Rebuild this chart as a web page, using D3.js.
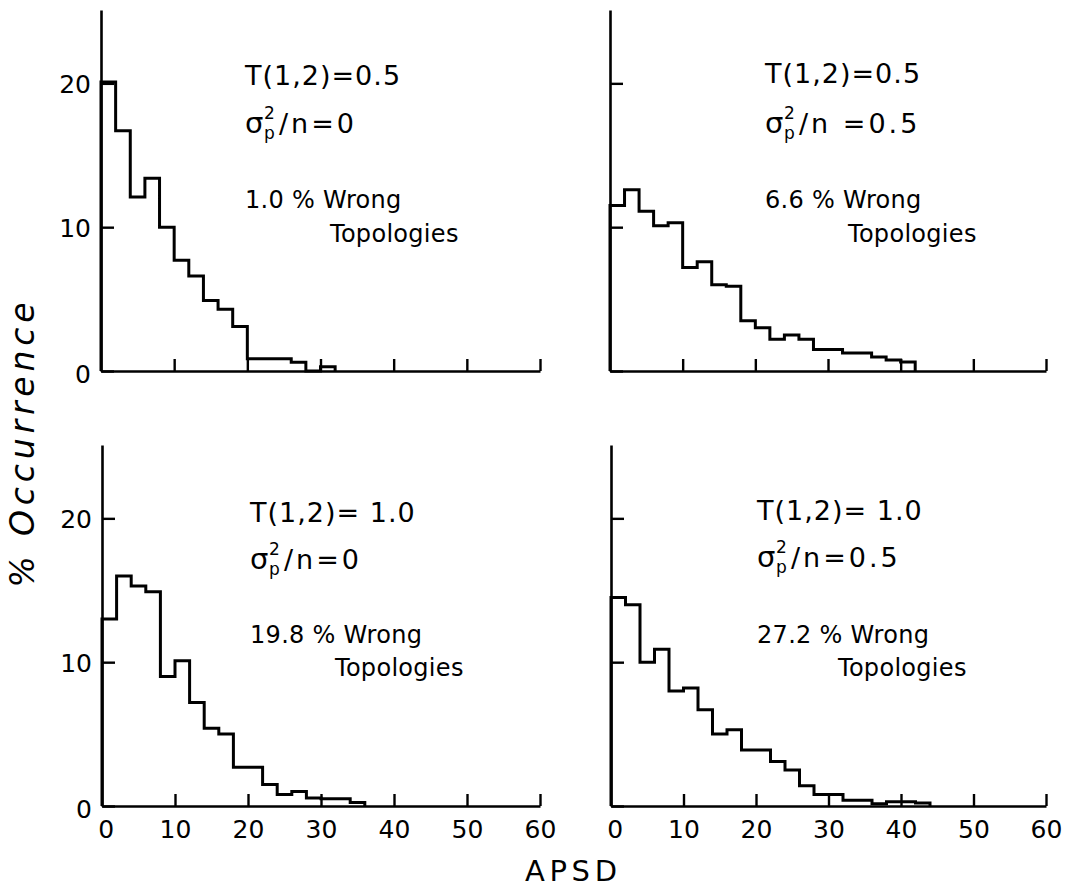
<!DOCTYPE html>
<html>
<head>
<meta charset="utf-8">
<script src="https://cdn.jsdelivr.net/npm/d3@7"></script>
<style>
  html, body { margin: 0; padding: 0; background: #fff; }
  svg { display: block; }
  text { font-family: "DejaVu Sans", sans-serif; fill: #000; }
</style>
</head>
<body>
<svg id="chart" width="1075" height="887"></svg>
<script>
// ---------------- data ----------------
const binWidth = 2;                       // APSD bin width
const apsdTicks = [0, 10, 20, 30, 40, 50, 60];
const occTicks = [0, 10, 20];
const apsdDomain = [0, 60];
const occDomain = [0, 25.1];

// % occurrence per APSD bin (bins of width 2 starting at 0)
const occT05S0  = [20.1, 16.7, 12.1, 13.4, 10.0, 7.7, 6.6, 4.9, 4.3, 3.1, 0.85, 0.85, 0.85, 0.6, 0, 0.3];
const occT05S05 = [11.5, 12.6, 11.1, 10.1, 10.3, 7.2, 7.6, 6.0, 5.9, 3.5, 3.0, 2.2, 2.5, 2.2, 1.5, 1.5, 1.25, 1.25, 0.97, 0.76, 0.62];
const occT10S0  = [13.0, 16.0, 15.3, 14.9, 9.0, 10.1, 7.2, 5.4, 5.0, 2.7, 2.7, 1.5, 0.8, 1.0, 0.55, 0.5, 0.5, 0.25];
const occT10S05 = [14.5, 14.0, 10.0, 10.9, 8.0, 8.2, 6.7, 5.0, 5.3, 3.9, 3.9, 3.1, 2.5, 1.4, 0.8, 0.8, 0.4, 0.4, 0.15, 0.3, 0.3, 0.2];

const tValues     = ["0.5", "0.5", "1.0", "1.0"];
const sigmaValues = ["0", "0.5", "0", "0.5"];
const wrongPct    = ["1.0", "6.6", "19.8", "27.2"];
const seriesList  = [occT05S0, occT05S05, occT10S0, occT10S05];

// ---------------- layout ----------------
const layout = [
  { x0: 101, x1: 540, y0: 371, y1: 10,  xLab: false, yLab: true,  tx: 245, ty: 85,  d2: 48, d3: 123, d4: 157, topoX: 330, tEq: "=", sEq: "=" },
  { x0: 610, x1: 1046, y0: 371, y1: 10, xLab: false, yLab: false, tx: 765, ty: 83,  d2: 50, d3: 125, d4: 159, topoX: 848, tEq: "=", sEq: " =" },
  { x0: 102, x1: 540, y0: 806, y1: 445, xLab: true,  yLab: true,  tx: 250, ty: 522, d2: 47, d3: 121, d4: 154, topoX: 335, tEq: "= ", sEq: "=" },
  { x0: 611, x1: 1046, y0: 806, y1: 445, xLab: true, yLab: false, tx: 757, ty: 520, d2: 47, d3: 123, d4: 156, topoX: 838, tEq: "= ", sEq: "=" }
];

const svg = d3.select("#chart");
svg.append("rect").attr("width", 1075).attr("height", 887).attr("fill", "#fff");

seriesList.forEach((vals, i) => {
  const L = layout[i];
  const x = d3.scaleLinear().domain(apsdDomain).range([L.x0, L.x1]);
  const y = d3.scaleLinear().domain(occDomain).range([L.y0, L.y1]);
  const g = svg.append("g");

  // y axis (ticks pointing inward)
  const yAxis = d3.axisLeft(y).tickValues(occTicks).tickSizeInner(-13).tickSizeOuter(0).tickPadding(10)
    .tickFormat(L.yLab ? d3.format("d") : () => "");
  const ya = g.append("g").attr("transform", `translate(${L.x0},0)`).call(yAxis);
  ya.select(".domain").attr("stroke", "#000").attr("stroke-width", 2.6);
  ya.selectAll(".tick line").attr("stroke", "#000").attr("stroke-width", 2.4);
  ya.selectAll(".tick text").attr("font-size", 25).attr("font-family", "DejaVu Sans").attr("fill", "#000")
    .attr("dy", d => d === 0 ? "0.45em" : "0.36em");

  // x axis (ticks pointing up)
  const xAxis = d3.axisBottom(x).tickValues(apsdTicks).tickSizeInner(-12).tickSizeOuter(0).tickPadding(14)
    .tickFormat(L.xLab ? d3.format("d") : () => "");
  const xa = g.append("g").attr("transform", `translate(0,${L.y0})`).call(xAxis);
  xa.select(".domain").attr("stroke", "#000").attr("stroke-width", 2.6);
  xa.selectAll(".tick line").attr("stroke", "#000").attr("stroke-width", 2.4)
    .attr("display", d => d === 0 ? "none" : null);
  xa.selectAll(".tick text").attr("font-size", 25).attr("font-family", "DejaVu Sans").attr("fill", "#000")
    .attr("dx", d => d === 0 ? "0.15em" : 0);

  // histogram step outline
  const pts = [[0, 0]].concat(vals.map((v, k) => [k * binWidth, v]));
  pts.push([vals.length * binWidth, vals[vals.length - 1]]);
  pts.push([vals.length * binWidth, 0]);
  const line = d3.line().x(d => x(d[0])).y(d => y(d[1])).curve(d3.curveStepAfter);
  g.append("path").attr("d", line(pts)).attr("fill", "none").attr("stroke", "#000")
    .attr("stroke-width", 3).attr("stroke-linejoin", "miter");

  // annotations
  const a = g.append("g");
  a.append("text").attr("x", L.tx).attr("y", L.ty).attr("font-size", 27).attr("letter-spacing", 1)
    .text(`T(1,2)${L.tEq}${tValues[i]}`);
  const sy = L.ty + L.d2;
  a.append("text").attr("x", L.tx).attr("y", sy).attr("font-size", 29).text("σ");
  a.append("text").attr("x", L.tx + 19).attr("y", sy - 14).attr("font-size", 17).text("2");
  a.append("text").attr("x", L.tx + 19).attr("y", sy + 6).attr("font-size", 17).text("p");
  a.append("text").attr("x", L.tx + 34).attr("y", sy).attr("font-size", 27).attr("letter-spacing", 3)
    .text(`/n${L.sEq}${sigmaValues[i]}`);
  a.append("text").attr("x", L.tx).attr("y", L.ty + L.d3).attr("font-size", 24).attr("letter-spacing", 0.3)
    .text(`${wrongPct[i]} % Wrong`);
  a.append("text").attr("x", L.topoX).attr("y", L.ty + L.d4).attr("font-size", 24).attr("letter-spacing", 0.3)
    .text("Topologies");
});

// axis titles
svg.append("text").attr("transform", "translate(34,445) rotate(-90)").attr("text-anchor", "middle")
  .attr("font-size", 33).attr("font-style", "italic").attr("textLength", 285).attr("lengthAdjust", "spacing")
  .text("% Occurrence");
svg.append("text").attr("x", 571).attr("y", 881).attr("text-anchor", "middle")
  .attr("font-size", 29).attr("textLength", 92).attr("lengthAdjust", "spacing")
  .text("APSD");
</script>
</body>
</html>
